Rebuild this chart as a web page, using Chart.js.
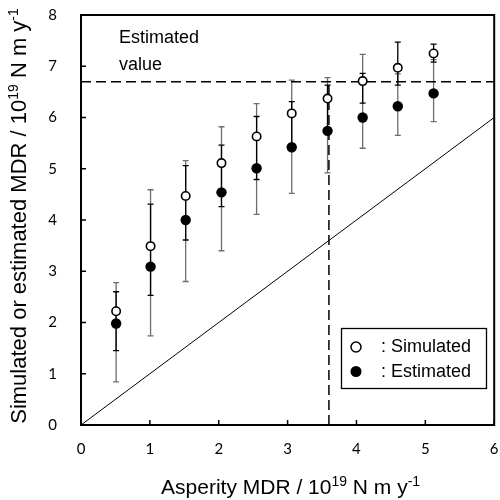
<!DOCTYPE html>
<html>
<head>
<meta charset="utf-8">
<script src="https://cdn.jsdelivr.net/npm/chart.js@4.4.1/dist/chart.umd.min.js"></script>
<style>
  html, body { margin: 0; padding: 0; background: #fff; }
  #wrap { width: 500px; height: 500px; }
</style>
</head>
<body>
<div id="wrap"><canvas id="myChart" width="500" height="500"></canvas></div>
<script>
// Adatok
const asperity = [0.51, 1.01, 1.52, 2.04, 2.55, 3.06, 3.58, 4.09, 4.60, 5.12];
const simulated = [2.22, 3.49, 4.47, 5.11, 5.63, 6.08, 6.37, 6.71, 6.97, 7.25];
const estimated = [1.98, 3.09, 4.00, 4.54, 5.01, 5.42, 5.74, 6.00, 6.22, 6.47];
const simHigh = [2.60, 4.31, 5.06, 5.46, 6.02, 6.31, 6.63, 6.86, 7.47, 7.43];
const simLow = [1.45, 2.53, 3.61, 4.26, 4.79, 5.45, 5.75, 6.28, 6.63, 7.08];
const estHigh = [2.78, 4.59, 5.16, 5.82, 6.27, 6.73, 6.78, 7.23, 6.85, 7.13];
const estLow = [0.84, 1.74, 2.80, 3.40, 4.11, 4.52, 4.92, 5.40, 5.65, 5.92];
const diagX = [0, 6];
const estimatedValue = 6.7;
const asperityEstimate = 3.6;
const xTicks = [0, 1, 2, 3, 4, 5, 6];
const yTicks = [0, 1, 2, 3, 4, 5, 6, 7, 8];

const titleFont = '"Liberation Sans", Arial, sans-serif';

// Szöveg felső indexekkel
function drawSupText(ctx, parts, size, x, y, align) {
    let total = 0;
    parts.forEach(p => {
        ctx.font = (p[1] ? Math.round(size * 0.65) : size) + 'px ' + titleFont;
        total += ctx.measureText(p[0]).width;
    });
    let cx = align === 'center' ? x - total / 2 : x;
    ctx.textAlign = 'left';
    ctx.textBaseline = 'alphabetic';
    parts.forEach(p => {
        ctx.font = (p[1] ? Math.round(size * 0.65) : size) + 'px ' + titleFont;
        ctx.fillText(p[0], cx, p[1] ? y - size * 0.38 : y);
        cx += ctx.measureText(p[0]).width;
    });
}

// Hibasávok
const errorBars = {
    id: 'errorBars',
    beforeDatasetsDraw(chart) {
        const ctx = chart.ctx, xs = chart.scales.x, ys = chart.scales.y;
        const draw = (lo, hi, color) => {
            ctx.strokeStyle = color;
            ctx.lineWidth = 1.3;
            asperity.forEach((v, i) => {
                const px = xs.getPixelForValue(v);
                const a = ys.getPixelForValue(lo[i]);
                const b = ys.getPixelForValue(hi[i]);
                ctx.beginPath();
                ctx.moveTo(px, a); ctx.lineTo(px, b);
                ctx.moveTo(px - 3, a); ctx.lineTo(px + 3, a);
                ctx.moveTo(px - 3, b); ctx.lineTo(px + 3, b);
                ctx.stroke();
            });
        };
        ctx.save();
        draw(estLow, estHigh, '#6e6e6e');
        draw(simLow, simHigh, '#000');
        ctx.restore();
    }
};

// Keret, belső osztások, feliratok, jelmagyarázat
const decorations = {
    id: 'decorations',
    afterDraw(chart) {
        const ctx = chart.ctx, a = chart.chartArea, xs = chart.scales.x, ys = chart.scales.y;
        ctx.save();
        ctx.strokeStyle = '#000';
        ctx.lineWidth = 2;
        ctx.strokeRect(a.left, a.top, a.right - a.left, a.bottom - a.top);
        ctx.lineWidth = 1.5;
        ctx.beginPath();
        xTicks.forEach(t => {
            const px = xs.getPixelForValue(t);
            ctx.moveTo(px, a.bottom); ctx.lineTo(px, a.bottom - 5);
        });
        yTicks.forEach(t => {
            const py = ys.getPixelForValue(t);
            ctx.moveTo(a.left, py); ctx.lineTo(a.left + 5, py);
        });
        ctx.stroke();

        ctx.fillStyle = '#000';
        // Tengelyfeliratok
        drawSupText(ctx, [['Asperity MDR / 10', false], ['19', true], [' N m y', false], ['-1', true]],
            21, (a.left + a.right) / 2 + 3, 494, 'center');
        ctx.save();
        ctx.translate(26, 216);
        ctx.rotate(-Math.PI / 2);
        drawSupText(ctx, [['Simulated or estimated MDR / 10', false], ['19', true], [' N m y', false], ['-1', true]],
            22, 0, 0, 'center');
        ctx.restore();

        // "Estimated value" felirat
        ctx.font = '18px ' + titleFont;
        ctx.textAlign = 'left';
        ctx.textBaseline = 'middle';
        ctx.fillText('Estimated', a.left + 38, 38);
        ctx.fillText('value', a.left + 38, 65);

        // Jelmagyarázat
        ctx.lineWidth = 1.3;
        ctx.strokeRect(341.5, 328.5, 145, 60);
        ctx.beginPath();
        ctx.arc(356, 347, 5, 0, Math.PI * 2);
        ctx.fillStyle = '#fff';
        ctx.fill();
        ctx.lineWidth = 1.5;
        ctx.stroke();
        ctx.beginPath();
        ctx.arc(356, 371.5, 5.5, 0, Math.PI * 2);
        ctx.fillStyle = '#000';
        ctx.fill();
        ctx.font = '18px ' + titleFont;
        ctx.fillText(': Simulated', 381, 347);
        ctx.fillText(': Estimated', 381, 372);
        ctx.restore();
    }
};

const ctx = document.getElementById('myChart').getContext('2d');
const myChart = new Chart(ctx, {
    type: 'scatter',
    data: {
        datasets: [
            {
                label: 'Simulated',
                data: asperity.map((x, i) => ({ x: x, y: simulated[i] })),
                pointRadius: 4.2,
                pointBackgroundColor: '#fff',
                pointBorderColor: '#000',
                pointBorderWidth: 1.6,
                order: 0
            },
            {
                label: 'Estimated',
                data: asperity.map((x, i) => ({ x: x, y: estimated[i] })),
                pointRadius: 5.2,
                pointBackgroundColor: '#000',
                pointBorderColor: '#000',
                pointBorderWidth: 0,
                order: 0
            },
            {
                label: '1:1',
                data: diagX.map(v => ({ x: v, y: v })),
                showLine: true,
                borderColor: '#000',
                borderWidth: 1,
                pointRadius: 0,
                order: 2
            },
            {
                label: 'Estimated value',
                data: diagX.map(v => ({ x: v, y: estimatedValue })),
                showLine: true,
                borderColor: '#000',
                borderWidth: 1.5,
                borderDash: [10, 5],
                pointRadius: 0,
                order: 1
            },
            {
                label: 'Asperity estimate',
                data: [{ x: asperityEstimate, y: 0 }, { x: asperityEstimate, y: estimatedValue }],
                showLine: true,
                borderColor: '#000',
                borderWidth: 1.5,
                borderDash: [10, 5],
                pointRadius: 0,
                order: 1
            }
        ]
    },
    options: {
        responsive: false,
        animation: false,
        devicePixelRatio: 1,
        layout: { padding: { top: 15, right: 2, left: 0, bottom: 0 } },
        plugins: {
            legend: { display: false },
            tooltip: { enabled: false }
        },
        scales: {
            x: {
                type: 'linear',
                min: 0, max: 6,
                afterBuildTicks: s => { s.ticks = xTicks.map(v => ({ value: v })); },
                afterFit: s => { s.height = 75; s.paddingLeft = 0; s.paddingRight = 0; },
                grid: { display: false, drawTicks: false },
                border: { display: false },
                ticks: { padding: 15, color: '#000', font: { family: 'Lato', size: 15 }, maxRotation: 0 }
            },
            y: {
                type: 'linear',
                min: 0, max: 8,
                afterBuildTicks: s => { s.ticks = yTicks.map(v => ({ value: v })); },
                afterFit: s => { s.width = 81; s.paddingTop = 0; s.paddingBottom = 0; },
                grid: { display: false, drawTicks: false },
                border: { display: false },
                ticks: { padding: 24, color: '#000', font: { family: 'Lato', size: 15 } }
            }
        }
    },
    plugins: [errorBars, decorations]
});
</script>
</body>
</html>
